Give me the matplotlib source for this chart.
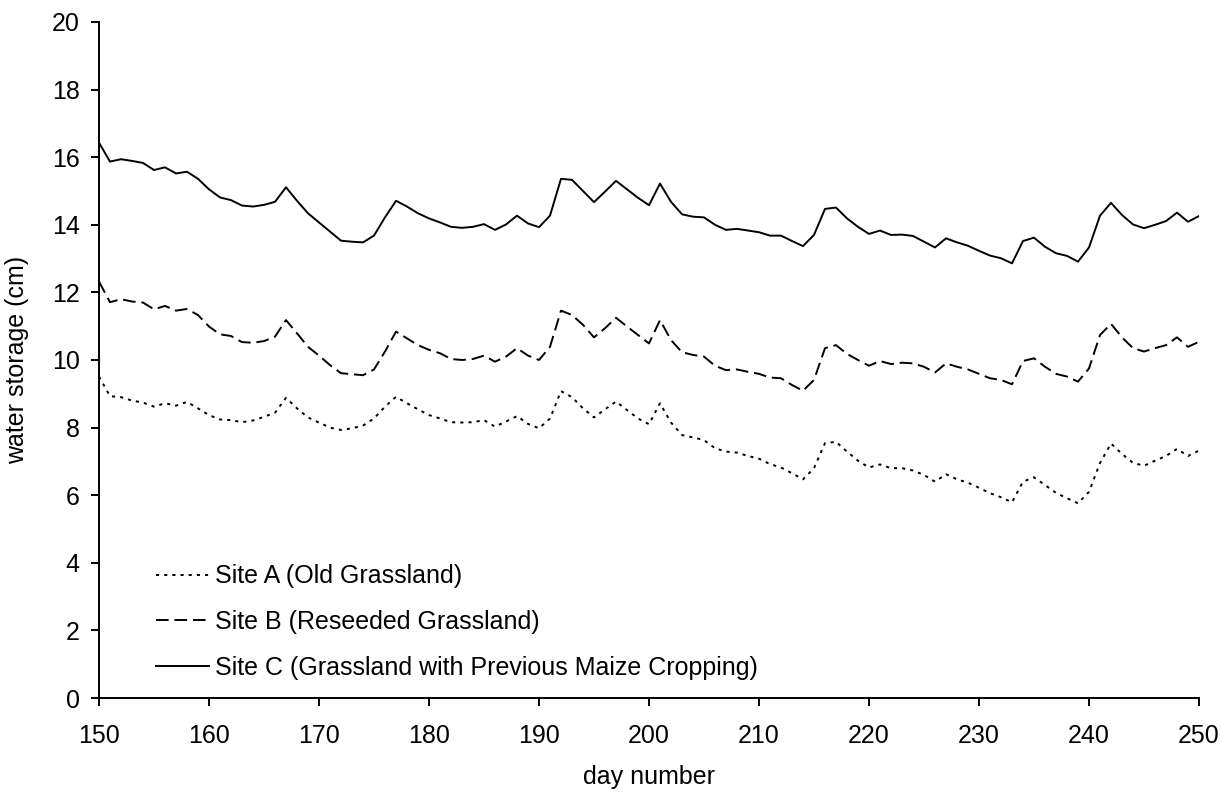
import matplotlib
matplotlib.use("Agg")
import matplotlib.pyplot as plt
import numpy as np

plt.rcParams['font.family'] = ['Liberation Sans', 'DejaVu Sans']

# day numbers, one reading per day
days = np.arange(150, 251)

# water storage (cm) at each site
site_a = [9.51, 8.93, 8.90, 8.80, 8.74, 8.62, 8.72, 8.65, 8.76, 8.57,
          8.37, 8.24, 8.22, 8.16, 8.21, 8.32, 8.44, 8.88, 8.57, 8.30,
          8.15, 8.00, 7.93, 7.98, 8.06, 8.27, 8.62, 8.91, 8.72, 8.54,
          8.37, 8.27, 8.16, 8.15, 8.16, 8.22, 8.03, 8.18, 8.34, 8.11,
          7.98, 8.27, 9.08, 8.90, 8.57, 8.30, 8.54, 8.77, 8.52, 8.27,
          8.10, 8.72, 8.15, 7.78, 7.71, 7.63, 7.39, 7.29, 7.26, 7.16,
          7.08, 6.92, 6.82, 6.65, 6.47, 6.80, 7.54, 7.58, 7.29, 7.02,
          6.82, 6.91, 6.80, 6.80, 6.73, 6.60, 6.40, 6.62, 6.47, 6.37,
          6.22, 6.06, 5.94, 5.79, 6.40, 6.53, 6.30, 6.07, 5.91, 5.76,
          6.10, 6.95, 7.53, 7.22, 6.96, 6.87, 7.02, 7.16, 7.37, 7.16,
          7.32]

site_b = [12.32, 11.71, 11.80, 11.73, 11.70, 11.50, 11.60, 11.46, 11.51, 11.33,
          10.99, 10.76, 10.71, 10.53, 10.51, 10.56, 10.69, 11.18, 10.79, 10.39,
          10.13, 9.85, 9.61, 9.58, 9.55, 9.72, 10.25, 10.84, 10.64, 10.44,
          10.30, 10.20, 10.03, 10.00, 10.03, 10.13, 9.95, 10.10, 10.35, 10.13,
          10.00, 10.39, 11.46, 11.33, 11.04, 10.67, 10.94, 11.25, 10.99, 10.74,
          10.49, 11.18, 10.59, 10.23, 10.15, 10.10, 9.83, 9.70, 9.72, 9.65,
          9.59, 9.48, 9.46, 9.26, 9.09, 9.41, 10.35, 10.44, 10.18, 10.00,
          9.83, 9.97, 9.88, 9.92, 9.90, 9.80, 9.63, 9.90, 9.80, 9.72,
          9.59, 9.46, 9.41, 9.28, 9.97, 10.05, 9.80, 9.59, 9.51, 9.36,
          9.75, 10.74, 11.07, 10.67, 10.35, 10.25, 10.35, 10.44, 10.67, 10.39,
          10.54]

site_c = [16.43, 15.87, 15.94, 15.89, 15.83, 15.62, 15.70, 15.52, 15.57, 15.36,
          15.05, 14.81, 14.73, 14.57, 14.54, 14.59, 14.68, 15.11, 14.71, 14.34,
          14.07, 13.80, 13.53, 13.50, 13.48, 13.68, 14.22, 14.71, 14.54, 14.34,
          14.19, 14.07, 13.94, 13.91, 13.94, 14.02, 13.85, 14.01, 14.27, 14.04,
          13.93, 14.27, 15.36, 15.33, 15.00, 14.67, 14.98, 15.30, 15.05, 14.80,
          14.58, 15.22, 14.68, 14.31, 14.24, 14.22, 14.00, 13.85, 13.88, 13.83,
          13.78, 13.68, 13.68, 13.52, 13.37, 13.70, 14.47, 14.51, 14.19, 13.94,
          13.73, 13.83, 13.70, 13.71, 13.67, 13.50, 13.33, 13.60, 13.48, 13.38,
          13.23, 13.09, 13.01, 12.86, 13.52, 13.62, 13.35, 13.16, 13.08, 12.91,
          13.33, 14.27, 14.65, 14.29, 14.01, 13.90, 14.00, 14.11, 14.36, 14.09,
          14.26]

labels = ['Site A (Old Grassland)',
          'Site B (Reseeded Grassland)',
          'Site C (Grassland with Previous Maize Cropping)']

W, H = 1221, 792
fig = plt.figure(figsize=(W / 100, H / 100), dpi=100)
ax = fig.add_axes([99 / W, 1 - 698 / H, 1100 / W, 676 / H])

lw = 1.4
ax.plot(days, site_a, color='black', lw=lw, linestyle=(0, (1.6, 2.6)), label=labels[0])
ax.plot(days, site_b, color='black', lw=lw, linestyle=(0, (6.5, 3)), label=labels[1])
ax.plot(days, site_c, color='black', lw=lw, linestyle='-', label=labels[2])

ax.set_xlim(150, 250)
ax.set_ylim(0, 20)
ax.set_xticks(np.arange(150, 251, 10))
ax.set_yticks(np.arange(0, 21, 2))

for side in ['top', 'right']:
    ax.spines[side].set_visible(False)
for side in ['left', 'bottom']:
    ax.spines[side].set_linewidth(1.4)
ax.tick_params(direction='out', length=6, width=1.4, labelsize=18, pad=8)
ax.tick_params(axis='x', pad=13)

ax.set_xlabel('day number', fontsize=18, labelpad=12)
ax.set_ylabel('water storage (cm)', fontsize=18, labelpad=16)

ax.legend(loc='center left', bbox_to_anchor=(156 / W, 1 - 622 / H),
          bbox_transform=fig.transFigure, frameon=False, borderpad=0,
          borderaxespad=0, fontsize=18, handlelength=2.1,
          handletextpad=0.25, labelspacing=0.86)

fig.savefig('out.png', dpi=100)
